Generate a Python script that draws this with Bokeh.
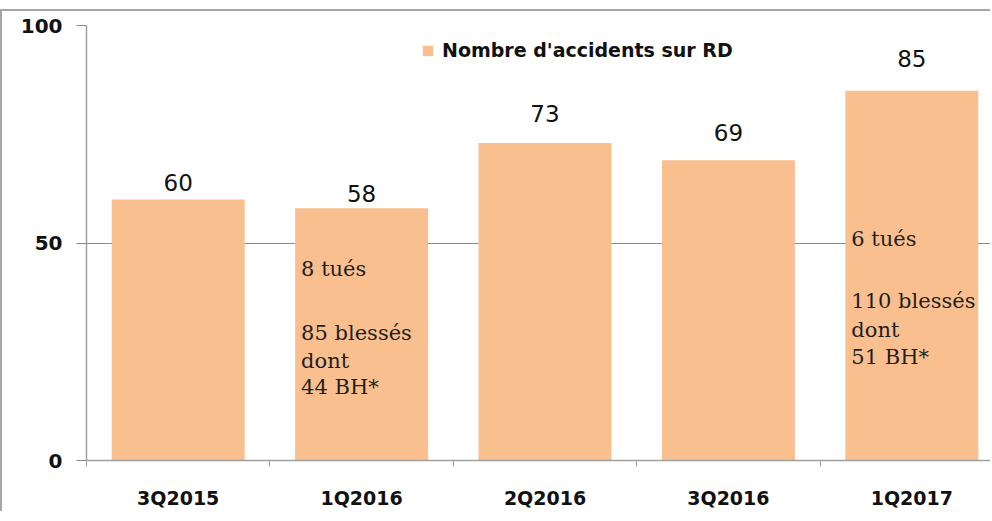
from bokeh.plotting import figure
from bokeh.models import ColumnDataSource, Range1d, FixedTicker, Legend, LegendItem
from bokeh.core.properties import value
from bokeh.embed import file_html
from bokeh.resources import INLINE

# ---- data ----
categories = ["3Q2015", "1Q2016", "2Q2016", "3Q2016", "1Q2017"]
accidents = [60, 58, 73, 69, 85]
label_gap_px = [17, 15, 29, 28, 32]
y_ticks = [0, 50, 100]

note_category = ["1Q2016"] * 4 + ["1Q2017"] * 4
note_text = ["8 tués", "85 blessés", "dont", "44 BH*",
             "6 tués", "110 blessés", "dont", "51 BH*"]
note_level = [44.1, 29.2, 22.8, 16.8, 51.0, 36.6, 30.1, 23.9]

legend_label = "Nombre d'accidents sur RD"

# ---- styling ----
BAR = "#FABF8F"
GRID = "#8c8c8c"
AXIS = "#a0a0a0"
BAR_W = 0.725
SANS = "DejaVu Sans"
SERIF = "DejaVu Serif"

xs = [i + 0.5 for i in range(len(categories))]
src = ColumnDataSource(dict(x=xs, top=accidents, lab=[str(v) for v in accidents],
                            yoff=[-g for g in label_gap_px]))

note_x = [categories.index(c) + 0.5 - BAR_W / 2 for c in note_category]
nsrc = ColumnDataSource(dict(x=note_x, y=note_level, t=note_text))

p = figure(width=990, height=502, output_backend="svg", toolbar_location=None,
           x_range=Range1d(0, 4.94), y_range=Range1d(0, 100),
           min_border_left=84, min_border_right=0, min_border_top=14,
           min_border_bottom=53)
p.styles = {"margin-top": "9px",
            "border-left": "2px solid #a6a6a6", "border-top": "2px solid #a6a6a6"}
p.outline_line_color = None
p.background_fill_color = "white"
p.border_fill_color = "white"

bars = p.vbar(x="x", top="top", width=BAR_W, bottom=0, source=src,
              fill_color=BAR, line_color=None)

p.text(x="x", y="top", text="lab", source=src, y_offset="yoff",
       text_align="center", text_baseline="alphabetic",
       text_font=value(SANS), text_font_size="23px", text_color="#111111")

p.text(x="x", y="y", text="t", source=nsrc, x_offset=6,
       text_align="left", text_baseline="middle",
       text_font=value(SERIF), text_font_size="21px", text_color="#1f1f1f")

# axes
xa = p.xaxis[0]
xa.ticker = FixedTicker(ticks=xs, minor_ticks=[0, 1, 2, 3, 4])
xa.major_label_overrides = {x: c for x, c in zip(xs, categories)}
xa.major_tick_line_color = None
xa.minor_tick_out = 6
xa.minor_tick_in = 0
xa.minor_tick_line_color = AXIS
xa.axis_line_color = AXIS
xa.axis_line_width = 1.5
xa.major_label_standoff = 20
xa.major_label_text_font = SANS
xa.major_label_text_font_style = "bold"
xa.major_label_text_font_size = "19px"
xa.major_label_text_color = "#111111"

ya = p.yaxis[0]
ya.ticker = FixedTicker(ticks=y_ticks)
ya.major_tick_out = 10
ya.major_tick_in = 0
ya.major_tick_line_color = GRID
ya.minor_tick_line_color = None
ya.axis_line_color = AXIS
ya.axis_line_width = 1.5
ya.major_label_standoff = 14
ya.major_label_text_font = SANS
ya.major_label_text_font_style = "bold"
ya.major_label_text_font_size = "20px"
ya.major_label_text_color = "#111111"

p.xgrid.grid_line_color = None
p.ygrid.ticker = FixedTicker(ticks=[50, 100])
p.ygrid.grid_line_color = GRID
p.ygrid.grid_line_width = 1.2

legend = Legend(items=[LegendItem(label=legend_label, renderers=[bars])],
                location=(335, 399), padding=0, margin=0, spacing=0,
                glyph_width=13, glyph_height=13, label_standoff=8,
                background_fill_alpha=0, border_line_color=None,
                label_text_font=SANS, label_text_font_style="bold",
                label_text_font_size="19px", label_text_color="#111111")
p.add_layout(legend)

open("out.html", "w").write(file_html(p, INLINE))
